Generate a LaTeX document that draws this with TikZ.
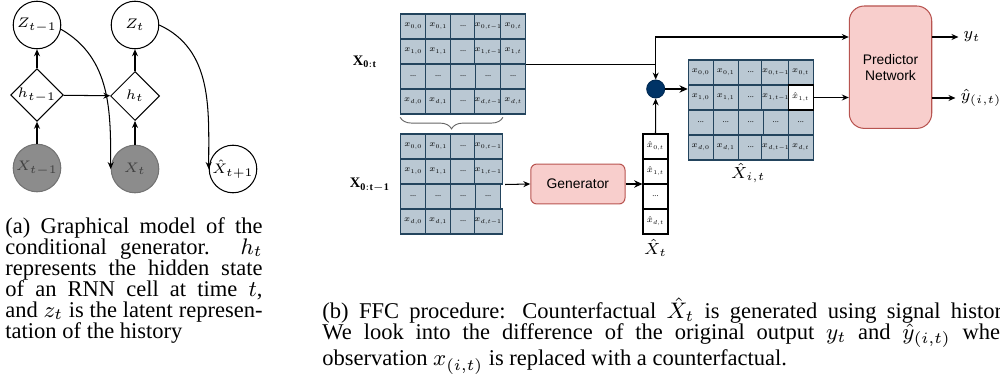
\RequirePackage{fix-cm}
\documentclass[tikz,border=0pt]{standalone}
\usepackage{fontspec}
\setmainfont{Liberation Serif}
\setsansfont{Liberation Sans}
\usepackage{amsmath}
\usetikzlibrary{shapes.geometric,arrows.meta,decorations.pathreplacing}

\definecolor{cellfill}{HTML}{BAC8D3}
\definecolor{cellline}{HTML}{23445D}
\definecolor{boxfill}{HTML}{F8CECC}
\definecolor{boxline}{HTML}{B85450}
\definecolor{mergefill}{HTML}{003366}

\tikzset{
	var/.style={circle,draw,line width=0.45pt,minimum size=20.6pt,inner sep=0pt,font=\fontsize{6}{7}\selectfont},
	obs/.style={var,fill=black!45,draw=black!55,text=black!75},
	hid/.style={diamond,draw,line width=0.45pt,minimum size=21.2pt,inner sep=0pt,font=\fontsize{6}{7}\selectfont},
	cell/.style={rectangle,draw=cellline,fill=cellfill,line width=0.5pt,minimum size=10.8pt,inner sep=0pt,font=\fontsize{3.6}{4}\selectfont},
	hatcell/.style={cell,fill=white,draw=black},
	block/.style={rectangle,rounded corners=2.6pt,draw=boxline,fill=boxfill,line width=0.45pt,font=\sffamily\fontsize{6}{7}\selectfont,align=center},
	lbl/.style={inner sep=2pt,font=\fontsize{7}{8}\selectfont},
	arr/.style={-{Stealth[length=3pt,width=2.6pt]},line width=0.45pt},
	thickarr/.style={-{Stealth[length=3.6pt,width=3.2pt]},line width=0.9pt},
	capt/.style={anchor=north west,inner sep=0pt,align=justify,font=\fontsize{9.75}{9.1}\selectfont}
}

% row/column indices written in the cells
\newcommand{\rowlab}[1]{\ifcase#1 0\or 1\or \or d\fi}
\newcommand{\collab}[1]{\ifcase#1 0\or 1\or \or t-1\or t\fi}

% 4 x (#4+1) window of observations, top left corner at (#2,#3)
\newcommand{\datagrid}[4]{%
	\foreach \ry in {0,...,3}
		\foreach \cx in {0,...,#4}
			\node[cell] (#1-\ry-\cx) at ({#2+25*\cx+12.5},{-#3-25*\ry-12.5})
				{\ifnum\ry=2 ...\else\ifnum\cx=2 ...\else$x_{\rowlab{\ry},\collab{\cx}}$\fi\fi};
}

\begin{document}
\begin{tikzpicture}[x=0.433pt,y=0.433pt]
	\useasboundingbox (0,0) rectangle (1000,-377);
	\clip (0,0) rectangle (1000,-377);

	% (a) generator as a graphical model
	\node[var] (zprev) at (37,-25) {$Z_{t-1}$};
	\node[hid] (hprev) at (37,-95) {$h_{t-1}$};
	\node[obs] (xprev) at (37,-168) {$X_{t-1}$};
	\node[var] (zcur) at (135,-25) {$Z_t$};
	\node[hid] (hcur) at (135,-96) {$h_t$};
	\node[obs] (xcur) at (135,-169) {$X_t$};
	\node[var] (xnext) at (233,-169) {$\hat{X}_{t+1}$};

	\draw[arr] (xprev) -- (hprev);
	\draw[arr] (hprev) -- (zprev);
	\draw[arr] (xcur) -- (hcur);
	\draw[arr] (hcur) -- (zcur);
	\draw[arr] (hprev) -- (hcur);
	\draw[arr] (zprev.-10) to[out=-30,in=90] (xcur.west);
	\draw[arr] (zcur.east) to[out=-25,in=90] (xnext.west);

	\node[capt,text width=111.3pt] (capa) at (5,-217) {(a) Graphical model of the\linebreak conditional generator. $h_t$\linebreak represents the hidden state\linebreak of an RNN cell at time $t$,\linebreak and $z_t$ is the latent represen-\linebreak tation of the history};

	% (b) feature-wise counterfactual
	\datagrid{win}{400.7}{14}{4}
	\datagrid{hist}{400.7}{134}{3}
	\datagrid{hat}{688.3}{60}{4}
	\node[hatcell] (swap) at (hat-1-4) {$\hat{x}_{1,t}$};

	\foreach \ry in {0,...,3}
		\node[hatcell] (fc-\ry) at (655.5,{-134-25*\ry-12.5})
			{\ifnum\ry=2 ...\else$\hat{x}_{\rowlab{\ry},t}$\fi};

	\draw[decorate,decoration={brace,mirror,amplitude=5pt},black!60,line width=0.4pt]
		([yshift=-1.2pt]win-3-0.south west) -- ([yshift=-1.2pt]win-3-3.south east);

	\node[font=\fontsize{6.3}{7}\selectfont] (winlab) at (365,-62) {$\mathbf{X_{0:t}}$};
	\node[font=\fontsize{6.3}{7}\selectfont] (histlab) at (370,-185) {$\mathbf{X_{0:t-1}}$};
	\node[lbl] (hatlab) at (748.3,-173) {$\hat{X}_{i,t}$};
	\node[lbl] (fclab) at (655.5,-248) {$\hat{X}_t$};

	\node[block,minimum width=40.8pt,minimum height=17.3pt] (gen) at (577.9,-184) {Generator};
	\node[block,rounded corners=6.5pt,minimum width=35.7pt,minimum height=53pt] (pred) at (890.5,-67.2) {Predictor\\Network};
	\node[circle,fill=mergefill,draw=mergefill!80!black,minimum size=7.8pt,inner sep=0pt] (merge) at (655.7,-89) {};

	\node[lbl] (yt) at (972,-37) {$y_t$};
	\node[lbl] (yhat) at (981,-98) {$\hat{y}_{(i,t)}$};

	\coordinate (split) at (merge |- win-1-4.south east);
	\draw (win-1-4.south east) -- (split);
	\draw[arr] (split) -- (merge);
	\draw[arr] (split) |- (pred.west |- yt);
	\draw[arr,shorten <=1pt] (hist-1-3.south east) -- (gen.west);
	\draw[thickarr] (gen.east) -- (gen.east -| fc-1.west);
	\draw[arr] (fc-0.north) -- (merge);
	\draw[thickarr] (merge) -- (merge -| hat-1-0.west);
	\draw[arr] (swap.east) -- (swap -| pred.west);
	\draw[arr] (pred.east |- yt) -- (yt.west);
	\draw[arr] (pred.east |- yhat) -- (yhat.west);

	\node[capt,text width=301pt] (capb) at (322,-297) {(b) FFC procedure: Counterfactual $\hat{X}_t$ is generated using signal history.\linebreak We look into the difference of the original output $y_t$ and $\hat{y}_{(i,t)}$ where\linebreak observation $x_{(i,t)}$ is replaced with a counterfactual.};
\end{tikzpicture}
\end{document}
